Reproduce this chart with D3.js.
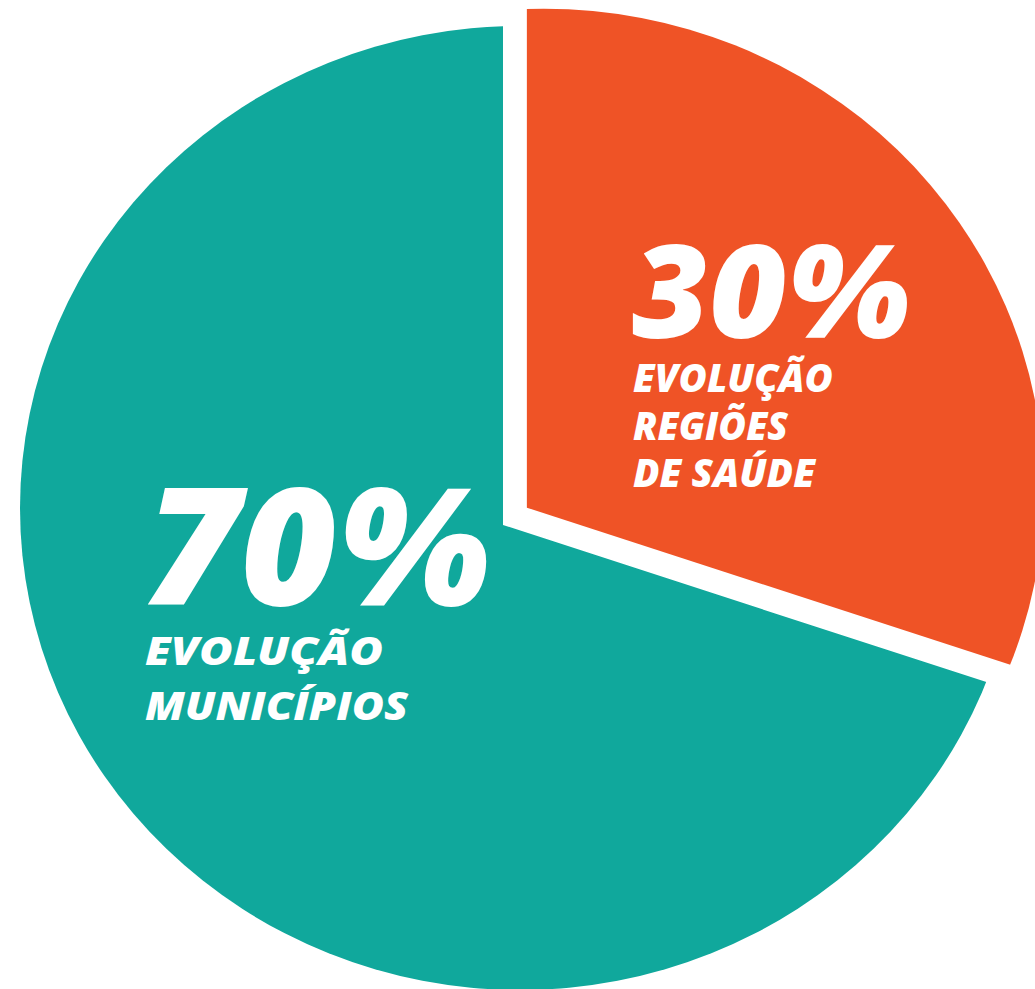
<!DOCTYPE html>
<html>
<head>
<meta charset="utf-8">
<script src="https://cdn.jsdelivr.net/npm/d3@7"></script>
<style>
  html, body { margin: 0; padding: 0; background: #ffffff; }
  svg { display: block; }
</style>
</head>
<body>
<script>
// ---- data ----
const categories = ["Evolução Regiões de Saúde", "Evolução Municípios"];
const values = [30, 70];
const percentLabels = ["30%", "70%"];
const labelLines = [["EVOLUÇÃO", "REGIÕES", "DE SAÚDE"], ["EVOLUÇÃO", "MUNICÍPIOS"]];
const colors = ["#EF5326", "#10A89C"];

// ---- layout ----
const W = 1035, H = 989;
const vertex = [503, 525];          // pie apex
const ellipseShift = [17, -17];     // outline centre relative to apex
const rx = 500, ry = 482;
const explode = [29.5, 0];
const pctLayout = [
  { x: 632, y: 338, w: 278, size: 130 },
  { x: 145, y: 605, w: 345, size: 164 }
];
const lineLayout = [
  { x: 633, y: [392, 440, 487], w: [200, 155, 182], size: 38 },
  { x: 145, y: [665, 720], w: [238, 263], size: 38 }
];

const svg = d3.select("body").append("svg")
  .attr("width", W).attr("height", H);

const pie = d3.pie().sort(null).value(d => d)(values);
const wedge = d3.arc().innerRadius(0).outerRadius(2000);

const defs = svg.append("defs");

pie.forEach((p, i) => {
  const mid = (p.startAngle + p.endAngle) / 2;
  const dx = explode[i] * Math.sin(mid);
  const dy = -explode[i] * Math.cos(mid);
  const ax = vertex[0] + dx, ay = vertex[1] + dy;

  defs.append("clipPath").attr("id", "clip" + i)
    .append("path")
    .attr("transform", `translate(${ax},${ay})`)
    .attr("d", wedge(p));

  svg.append("ellipse")
    .attr("cx", ax + ellipseShift[0])
    .attr("cy", ay + ellipseShift[1])
    .attr("rx", rx).attr("ry", ry)
    .attr("fill", colors[i])
    .attr("clip-path", `url(#clip${i})`)
    .append("title").text(categories[i] + ": " + values[i] + "%");
});

const font = "'Open Sans', 'Liberation Sans', sans-serif";

percentLabels.forEach((t, i) => {
  const L = pctLayout[i];
  svg.append("text")
    .attr("x", L.x).attr("y", L.y)
    .attr("font-family", font)
    .attr("font-style", "italic")
    .attr("font-weight", 800)
    .attr("font-size", L.size)
    .attr("fill", "#ffffff")
    .attr("textLength", L.w)
    .attr("lengthAdjust", "spacingAndGlyphs")
    .text(t);
});

labelLines.forEach((lines, i) => {
  const L = lineLayout[i];
  lines.forEach((ln, j) => {
    svg.append("text")
      .attr("x", L.x).attr("y", L.y[j])
      .attr("font-family", font)
      .attr("font-style", "italic")
      .attr("font-weight", 800)
      .attr("font-size", L.size)
      .attr("fill", "#ffffff")
      .attr("textLength", L.w[j])
      .attr("lengthAdjust", "spacingAndGlyphs")
      .text(ln);
  });
});
</script>
</body>
</html>
